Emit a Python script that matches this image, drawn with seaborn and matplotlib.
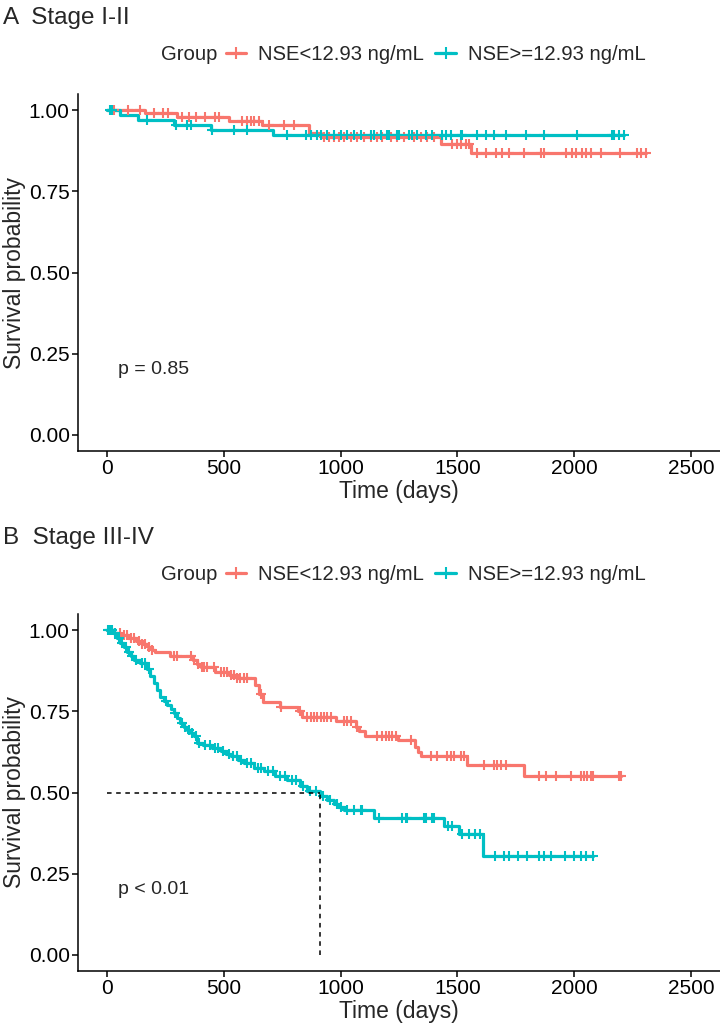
import numpy as np
import pandas as pd
import matplotlib
matplotlib.use("Agg")
import matplotlib.pyplot as plt
from matplotlib.lines import Line2D
import seaborn as sns

# ---------------- data ----------------
groups = ["NSE<12.93 ng/mL", "NSE>=12.93 ng/mL"]
colors = ["#F8766D", "#00BFC4"]
x_ticks = [0, 500, 1000, 1500, 2000, 2500]
y_ticks = [0.00, 0.25, 0.50, 0.75, 1.00]

# Panel A (Stage I-II)
a_low_event_t = [160, 300, 520, 664, 864, 914, 1429, 1560]
a_low_event_s = [0.990, 0.978, 0.967, 0.954, 0.930, 0.918, 0.895, 0.867]
a_low_end = 2307
a_low_cens = [30, 90, 140, 200, 240, 260, 320, 350, 380, 420, 460, 480, 579, 600, 615,
              630, 650, 693, 757, 800, 928, 950, 971, 993, 1014, 1043, 1071, 1100, 1129,
              1157, 1179, 1214, 1243, 1271, 1314, 1343, 1371, 1400, 1479, 1500, 1514,
              1536, 1550, 1586, 1621, 1664, 1693, 1721, 1786, 1857, 1871, 1964, 1993,
              2007, 2036, 2050, 2071, 2114, 2197, 2271, 2286, 2307]

a_high_event_t = [55, 130, 286, 443, 711]
a_high_event_s = [0.985, 0.969, 0.954, 0.938, 0.923]
a_high_end = 2214
a_high_cens = [10, 20, 171, 293, 343, 357, 450, 543, 600, 771, 850, 871, 900, 914, 943,
               971, 1000, 1029, 1057, 1086, 1129, 1143, 1171, 1200, 1207, 1243, 1250,
               1293, 1307, 1329, 1364, 1393, 1436, 1450, 1471, 1514, 1521, 1586, 1621,
               1657, 1707, 1793, 1871, 2014, 2164, 2171, 2193, 2214]

# Panel B (Stage III-IV)
b_low_event_t = [30, 60, 90, 125, 150, 175, 193, 206, 270, 369, 385, 400, 463, 520, 557,
                 635, 650, 669, 742, 819, 835, 980, 1064, 1080, 1105, 1245, 1318, 1330,
                 1345, 1543, 1786]
b_low_event_s = [0.992, 0.985, 0.977, 0.968, 0.958, 0.948, 0.940, 0.933, 0.920, 0.908,
                 0.897, 0.887, 0.871, 0.862, 0.853, 0.830, 0.805, 0.779, 0.764, 0.750,
                 0.734, 0.719, 0.703, 0.688, 0.675, 0.663, 0.640, 0.625, 0.611, 0.586,
                 0.550]
b_low_end = 2200
b_low_cens = [57, 71, 86, 100, 114, 136, 150, 164, 179, 193, 286, 300, 357, 371, 390, 405,
              414, 429, 457, 486, 500, 514, 529, 543, 557, 571, 586, 600, 657, 743, 828,
              856, 871, 886, 900, 914, 928, 943, 957, 1014, 1029, 1043, 1071, 1157, 1179,
              1193, 1207, 1221, 1236, 1300, 1386, 1414, 1457, 1471, 1486, 1514, 1529,
              1614, 1657, 1671, 1686, 1707, 1850, 1879, 1921, 1986, 2029, 2043, 2057,
              2071, 2079, 2193, 2200]

b_high_event_t = [27, 40, 57, 72, 86, 100, 114, 140, 171, 185, 200, 214, 228, 243, 257,
                  272, 286, 300, 314, 329, 343, 357, 371, 386, 410, 450, 486, 510, 529,
                  560, 586, 628, 671, 720, 770, 828, 857, 910, 940, 971, 990, 1014, 1143,
                  1443, 1506, 1610]
b_high_event_s = [0.990, 0.975, 0.960, 0.947, 0.933, 0.920, 0.908, 0.898, 0.882, 0.860,
                  0.836, 0.815, 0.795, 0.782, 0.770, 0.757, 0.744, 0.729, 0.714, 0.703,
                  0.693, 0.683, 0.673, 0.652, 0.645, 0.636, 0.627, 0.618, 0.611, 0.600,
                  0.591, 0.576, 0.566, 0.552, 0.538, 0.520, 0.505, 0.490, 0.478, 0.466,
                  0.455, 0.446, 0.422, 0.397, 0.372, 0.305]
b_high_end = 2080
b_high_cens = [3, 8, 12, 18, 22, 35, 50, 65, 80, 95, 108, 125, 150, 160, 178, 250, 290,
               320, 335, 350, 365, 380, 395, 420, 440, 460, 475, 495, 520, 540, 555, 575,
               600, 615, 645, 660, 690, 710, 740, 760, 790, 810, 840, 870, 895, 925, 955,
               985, 1000, 1029, 1057, 1086, 1093, 1164, 1264, 1279, 1286, 1357, 1364,
               1393, 1400, 1460, 1475, 1520, 1550, 1575, 1595, 1660, 1700, 1720, 1760,
               1800, 1850, 1870, 1900, 1960, 2000, 2030, 2050, 2080]

panel_titles = ["A  Stage I-II", "B  Stage III-IV"]
pvals = ["p = 0.85", "p < 0.01"]
show_median = [False, True]


# ---------------- helpers ----------------
def surv_at(t, ev_t, ev_s):
    ev_t = np.asarray(ev_t)
    idx = np.searchsorted(ev_t, t, side="right") - 1
    return 1.0 if idx < 0 else ev_s[idx]


def curve_frame(name, ev_t, ev_s, end):
    times = [0] + list(ev_t) + [end]
    surv = [1.0] + list(ev_s) + [ev_s[-1]]
    return pd.DataFrame({"time": times, "surv": surv, "group": name})


def cens_frame(name, cens, ev_t, ev_s):
    return pd.DataFrame({"time": cens,
                         "surv": [surv_at(c, ev_t, ev_s) for c in cens],
                         "group": name})


# ---------------- style ----------------
sns.set_theme(style="white")
plt.rcParams["font.family"] = ["Liberation Sans", "DejaVu Sans"]
plt.rcParams["axes.edgecolor"] = "black"
plt.rcParams["axes.linewidth"] = 1.1
plt.rcParams["xtick.color"] = "black"
plt.rcParams["ytick.color"] = "black"

W, H = 720, 1030
fig = plt.figure(figsize=(W / 100, H / 100), dpi=100)
palette = dict(zip(groups, colors))

panels = [
    (a_low_event_t, a_low_event_s, a_low_end, a_low_cens,
     a_high_event_t, a_high_event_s, a_high_end, a_high_cens),
    (b_low_event_t, b_low_event_s, b_low_end, b_low_cens,
     b_high_event_t, b_high_event_s, b_high_end, b_high_cens),
]

ax_left, ax_w, ax_h = 78, 642, 357
ax_tops = [94, 614]
title_y = [18, 538]
legend_y = [55, 575]

for i, p in enumerate(panels):
    lt, ls, le, lc, ht, hs, he, hc = p
    top = ax_tops[i]
    ax = fig.add_axes([ax_left / W, 1 - (top + ax_h) / H, ax_w / W, ax_h / H])

    lines = pd.concat([curve_frame(groups[0], lt, ls, le),
                       curve_frame(groups[1], ht, hs, he)], ignore_index=True)
    cens = pd.concat([cens_frame(groups[0], lc, lt, ls),
                      cens_frame(groups[1], hc, ht, hs)], ignore_index=True)

    for g in groups:
        sns.lineplot(data=lines[lines.group == g], x="time", y="surv", color=palette[g],
                     drawstyle="steps-post", estimator=None, sort=False,
                     linewidth=2.3, legend=False, ax=ax)
        sns.scatterplot(data=cens[cens.group == g], x="time", y="surv", color=palette[g],
                        marker="+", s=55, linewidth=1.5, legend=False, ax=ax, zorder=3)

    if show_median[i]:
        med = next(t for t, s in zip(ht, hs) if s <= 0.5)
        ax.plot([0, med], [0.5, 0.5], color="black", ls=(0, (3, 3)), lw=1.1, zorder=4)
        ax.plot([med, med], [0, 0.5], color="black", ls=(0, (3, 3)), lw=1.1, zorder=4)

    ax.set_xlim(-125, 2625)
    ax.set_ylim(-0.05, 1.05)
    ax.set_xticks(x_ticks)
    ax.set_xticklabels([str(v) for v in x_ticks])
    ax.set_yticks(y_ticks)
    ax.set_yticklabels([f"{v:.2f}" for v in y_ticks])
    ax.tick_params(axis="both", labelsize=15, length=4, width=1.1, direction="out",
                   bottom=True, left=True, pad=2)
    ax.set_xlabel("Time (days)", fontsize=16.5, labelpad=1)
    ax.set_ylabel("Survival probability", fontsize=16.5, labelpad=2)
    for side in ["top", "right"]:
        ax.spines[side].set_visible(False)

    ax.text(48, 0.2, pvals[i], fontsize=14, ha="left", va="center")

    fig.text(3 / W, 1 - title_y[i] / H, panel_titles[i], fontsize=17.5,
             ha="left", va="center")

    # legend
    fig.text(161 / W, 1 - legend_y[i] / H, "Group", fontsize=14.6, ha="left", va="center")
    handles = [Line2D([], [], color=c, lw=2.3, marker="+", markersize=8, mew=1.5)
               for c in colors]
    fig.legend(handles, groups, loc="center left",
               bbox_to_anchor=(226 / W, 1 - legend_y[i] / H), ncol=2, frameon=False,
               fontsize=14.6, handlelength=1.0, handletextpad=0.6, columnspacing=0.55,
               borderpad=0, borderaxespad=0)

fig.savefig("out.png", dpi=100)
